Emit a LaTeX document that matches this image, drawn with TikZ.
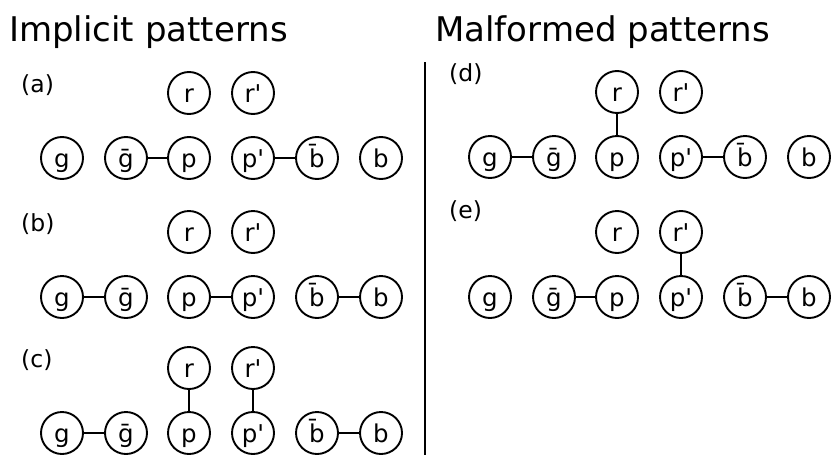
\documentclass[tikz,border=0pt]{standalone}
\usepackage{fontspec}
\setmainfont{DejaVu Sans}
% plain family without TeX ligatures, so that ' stays a straight prime
\newfontfamily\atomfont{DejaVu Sans}
\newcommand{\bb}{b\char"0304}
\newcommand{\gb}{g\char"0304}
\tikzset{
  atom/.style={circle, draw, line width=1.9pt, minimum size=42pt, inner sep=0pt,
    text height=20pt, text depth=2pt, font=\atomfont\fontsize{24.5}{27}\selectfont},
  link/.style={line width=1.9pt},
  title/.style={anchor=base west, inner sep=0pt, font=\fontsize{34}{38}\selectfont},
  tag/.style={anchor=base west, inner sep=0pt, font=\fontsize{23.5}{26}\selectfont},
}
% one row group: top row r, r' and bottom row g, gbar, p, p', bbar, b
% #1,#2 = centre of g; #3 = name prefix; #4 = tag text; #5 = tag height
\newcommand{\atomrow}[5]{%
  \begin{scope}[shift={(#1,#2)}]
    \node[tag] (#3lbl) at (-41,#5) {(#4)};
    \node[atom] (#3r)  at (127,-65) {r};
    \node[atom] (#3rp) at (191,-65) {r'};
    \node[atom] (#3g)  at (0,0)   {g};
    \node[atom] (#3gb) at (64,0)  {\gb};
    \node[atom] (#3p)  at (127,0) {p};
    \node[atom] (#3pp) at (191,0) {p'};
    \node[atom] (#3bb) at (255,0) {\bb};
    \node[atom] (#3b)  at (319,0) {b};
  \end{scope}}
\begin{document}
\begin{tikzpicture}[x=1pt,y=-1pt]
  \useasboundingbox (0,0) rectangle (834,455);
  \node[title] (ttl1) at (9,41) {Implicit patterns};
  \node[title] (ttl2) at (435,41) {Malformed patterns};
  \coordinate (divtop) at (425,62);
  \coordinate (divbot) at (425,455);
  \draw[link] (divtop) -- (divbot);

  \atomrow{62}{158}{a}{a}{-66}
  \draw[link] (agb) -- (ap);
  \draw[link] (app) -- (abb);

  \atomrow{62}{297}{b}{b}{-66}
  \draw[link] (bg) -- (bgb);
  \draw[link] (bp) -- (bpp);
  \draw[link] (bbb) -- (bb);

  \atomrow{62}{433}{c}{c}{-66}
  \draw[link] (cg) -- (cgb);
  \draw[link] (cr) -- (cp);
  \draw[link] (crp) -- (cpp);
  \draw[link] (cbb) -- (cb);

  \atomrow{490}{157}{d}{d}{-76}
  \draw[link] (dg) -- (dgb);
  \draw[link] (dr) -- (dp);
  \draw[link] (dpp) -- (dbb);

  \atomrow{490}{297}{e}{e}{-79}
  \draw[link] (egb) -- (ep);
  \draw[link] (erp) -- (epp);
  \draw[link] (ebb) -- (eb);
\end{tikzpicture}
\end{document}
